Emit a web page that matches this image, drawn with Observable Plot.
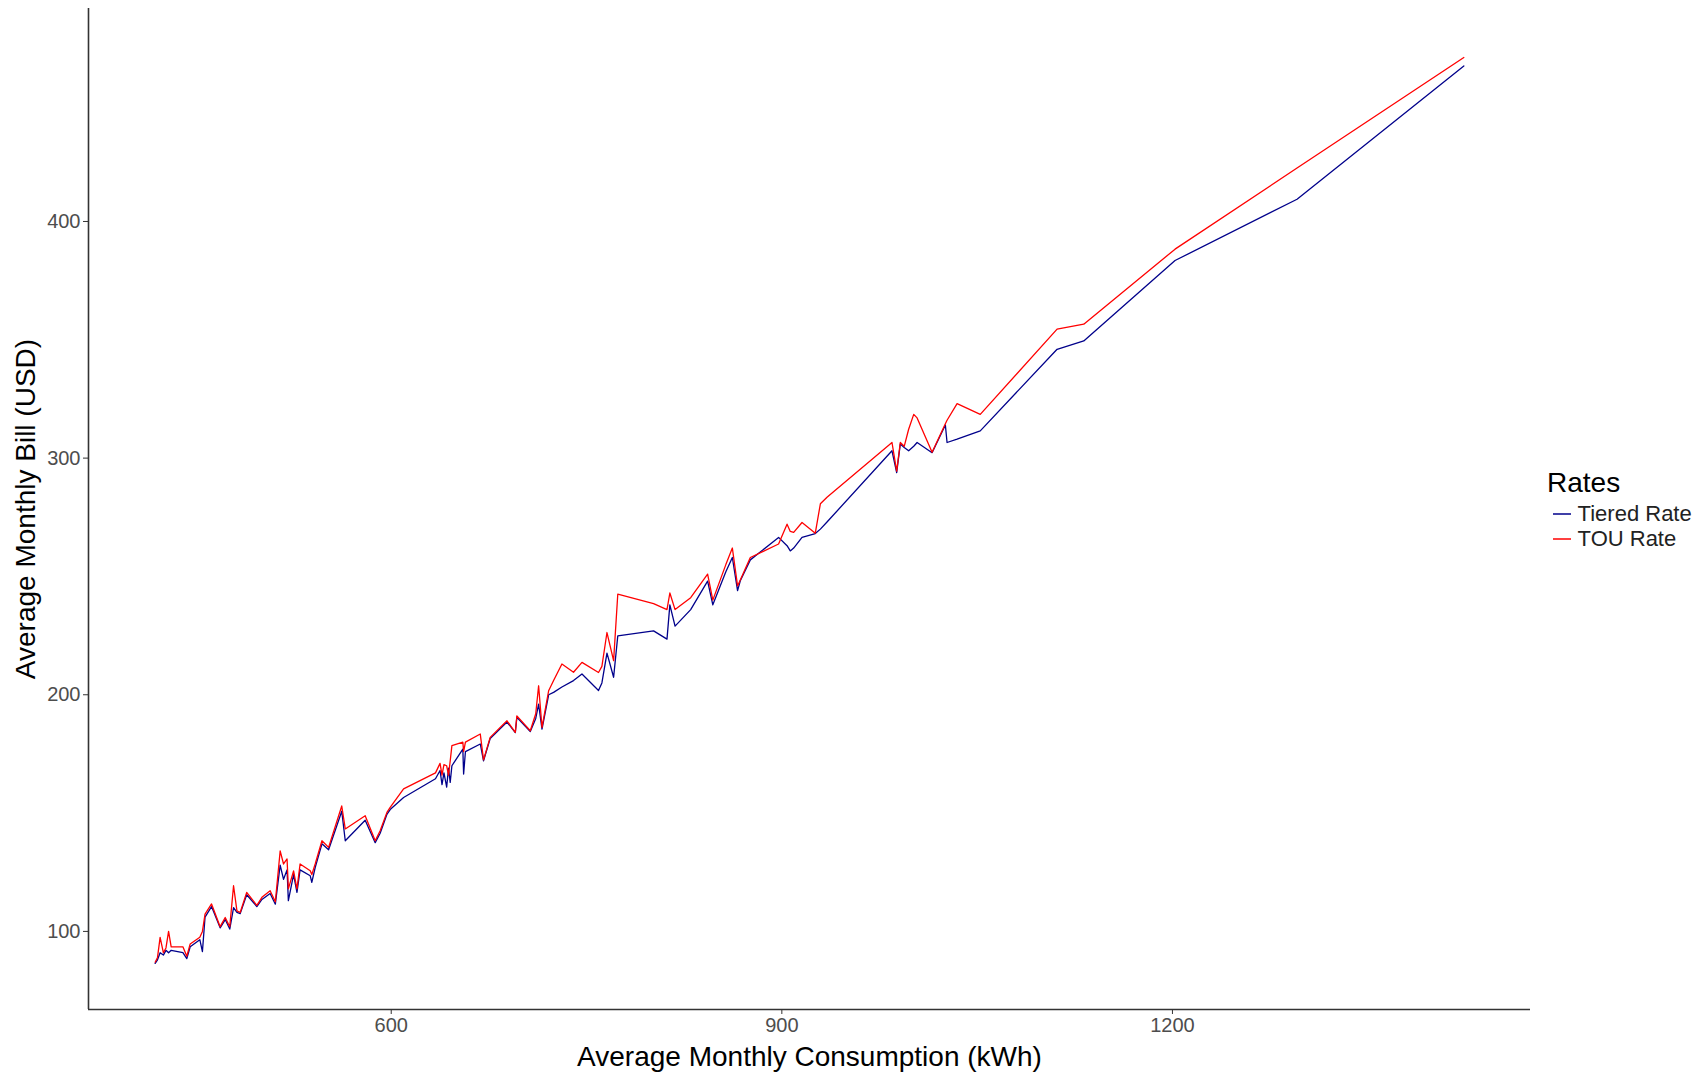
<!DOCTYPE html>
<html>
<head>
<meta charset="utf-8">
<script src="https://cdn.jsdelivr.net/npm/d3@7"></script>
<script src="https://cdn.jsdelivr.net/npm/@observablehq/plot@0.6"></script>
<style>
  html, body { margin: 0; padding: 0; background: #fff; }
  #wrap { position: relative; width: 1706px; height: 1075px; font-family: "Liberation Sans", Arial, sans-serif; }
  #legend { position: absolute; left: 1547px; top: 467px; color: #000; }
  #legend .title { font-size: 28px; line-height: 32px; margin-bottom: 2px; }
  #legend .item { font-size: 22px; line-height: 25px; height: 25px; display: flex; align-items: center; color: #222; }
  #legend .item svg { margin-left: 5.6px; margin-right: 7px; }
</style>
</head>
<body>
<div id="wrap"></div>
<script>
// Average monthly consumption (kWh), shared by both rate series
const consumption = [418.7, 420.5, 422.5, 425, 427, 429, 431, 440, 443, 445.6, 453, 455, 457, 462, 468.6, 472.5, 476, 478.9, 481.5, 484, 489, 496.8, 500.7, 507, 511, 514.7, 517.3, 520, 521, 525, 527.6, 530, 537.8, 539, 541.6, 546.8, 551.9, 562, 564.7, 580, 587.7, 591.5, 596.7, 599.2, 609.5, 634, 637.5, 639, 640.5, 642.6, 644, 645.3, 646.6, 655, 655.6, 657, 668.4, 670.9, 676, 688.9, 695.3, 696.5, 706.8, 711, 713.2, 715.8, 720.9, 724.7, 731.1, 740, 746.5, 759.2, 761.8, 765.7, 770.8, 774, 801.5, 811.8, 814, 818, 830, 843, 847, 857, 862, 866, 868.1, 875.8, 897.5, 904, 906.5, 909.1, 915.5, 925.7, 929.6, 934.7, 984.6, 988.2, 991, 994, 997.4, 1001.3, 1003.9, 1015.4, 1025.6, 1026.9, 1034.6, 1052.4, 1111.4, 1131.9, 1202, 1295.7, 1423.8];
// Average monthly bill (USD) under the tiered rate
const tieredBill = [86.5, 88, 91, 90, 92, 91, 92, 91, 88.5, 93.5, 96.5, 91.5, 106, 110.5, 101.5, 105, 101, 110, 108, 107.5, 115.5, 110.5, 113.5, 116, 111.5, 128, 122, 126, 113, 124, 116.5, 126, 123.5, 120.7, 127, 137, 134.5, 150.8, 138.3, 147, 137.5, 141.5, 149.5, 151.5, 156.6, 164.5, 168, 162, 167, 161, 169, 163, 170, 177, 166.5, 176, 179.2, 172.1, 181.5, 188.5, 184, 190.5, 184.5, 190, 196, 185.5, 200, 201, 203.3, 206, 208.8, 201.8, 205, 217.6, 207.4, 224.9, 227, 223.5, 238, 229, 236, 248, 238, 252, 258, 244, 248.2, 257, 266.5, 263, 260.8, 262, 266.5, 268.1, 270, 273, 303.1, 293.9, 306, 304.5, 303.1, 305, 306.6, 302.3, 314, 306.6, 308, 311.5, 346, 349.5, 383.5, 409.4, 465.7];
// Average monthly bill (USD) under the time-of-use rate
const touBill = [87, 89, 97.5, 91, 93, 100, 93.5, 93.5, 89.5, 94.7, 97.5, 100, 107.3, 111.6, 102, 105.9, 102, 119.3, 108.7, 108, 116.5, 111, 114.4, 117.2, 112.5, 134, 128.5, 130.6, 118, 125.6, 118, 128.5, 125.6, 124, 128.5, 138.3, 135.5, 153, 143.3, 148.9, 138.3, 142.5, 150.3, 152.4, 160.2, 167, 171, 166, 170.5, 170, 166, 172, 178.5, 180, 176, 180, 183.4, 172.5, 182, 189, 184.1, 191.1, 184.8, 192, 203.8, 186.2, 201.7, 206, 213, 209.5, 213.7, 209.4, 212, 226.3, 214.4, 242.5, 238.5, 236, 243, 236, 241, 251, 240, 255, 262, 246, 248.5, 258, 263.7, 272.1, 269, 268.6, 272.8, 268.3, 280.7, 283.5, 306.6, 294.5, 306.6, 305, 312.2, 318.5, 317, 302.5, 314.5, 316, 323, 318.5, 354.5, 356.6, 388.3, 422.6, 469.3];

const rates = ["Tiered Rate", "TOU Rate"];
const rateColors = ["#00008B", "#FF0000"];
const xTicks = [600, 900, 1200];
const yTicks = [100, 200, 300, 400];
const xDomain = [367.5, 1475];
const yDomain = [67, 490];
const xTitle = "Average Monthly Consumption (kWh)";
const yTitle = "Average Monthly Bill (USD)";

const data = consumption.flatMap((x, i) => [
  {kwh: x, bill: tieredBill[i], rate: rates[0]},
  {kwh: x, bill: touBill[i], rate: rates[1]}
]);

const chart = Plot.plot({
  width: 1706,
  height: 1075,
  marginLeft: 88,
  marginRight: 176,
  marginTop: 8,
  marginBottom: 66,
  style: {fontFamily: "'Liberation Sans', Arial, sans-serif", background: "#fff", color: "#000"},
  x: {domain: xDomain},
  y: {domain: yDomain},
  color: {domain: rates, range: rateColors},
  marks: [
    Plot.axisX({ticks: xTicks, tickFormat: d => String(d), tickSize: 5, tickPadding: 3, fontSize: 20, fill: "#4d4d4d", stroke: "#333",
      label: xTitle, labelArrow: "none", labelAnchor: "center", labelOffset: 56}),
    Plot.axisY({ticks: yTicks, tickFormat: d => String(d), tickSize: 5, tickPadding: 3, fontSize: 20, fill: "#4d4d4d", stroke: "#333",
      label: yTitle, labelArrow: "none", labelAnchor: "center", labelOffset: 73}),
    Plot.ruleX([xDomain[0]], {stroke: "#333", strokeWidth: 1.6}),
    Plot.ruleY([yDomain[0]], {stroke: "#333", strokeWidth: 1.6}),
    Plot.line(data, {x: "kwh", y: "bill", stroke: "rate", z: "rate", strokeWidth: 1.3})
  ]
});

// axis titles: larger, black, no arrows
const xl = chart.querySelector("g[aria-label='x-axis label'] text");
const yl = chart.querySelector("g[aria-label='y-axis label'] text");
[[xl, xTitle], [yl, yTitle]].forEach(([t, s]) => {
  if (!t) return;
  t.textContent = s;
  t.setAttribute("font-size", 28);
  t.style.fontSize = "28px";
  t.setAttribute("fill", "#000");
});

const wrap = document.getElementById("wrap");
wrap.appendChild(chart);

const legend = document.createElement("div");
legend.id = "legend";
legend.innerHTML = `<div class="title">Rates</div>` + rates.map((r, i) =>
  `<div class="item"><svg width="18" height="20"><line x1="0" x2="18" y1="10" y2="10" stroke="${rateColors[i]}" stroke-width="1.5"/></svg>${r}</div>`).join("");
wrap.appendChild(legend);
</script>
</body>
</html>
